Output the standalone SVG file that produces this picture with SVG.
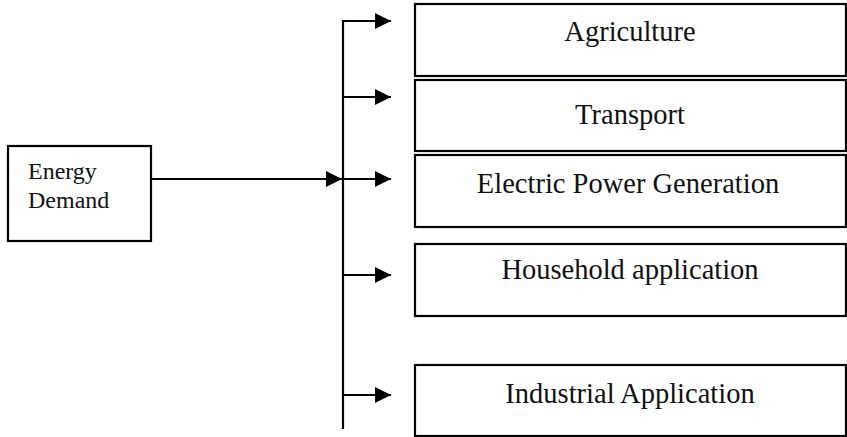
<svg xmlns="http://www.w3.org/2000/svg" width="847" height="437" viewBox="0 0 847 437">
  <style>
    .box { fill: #ffffff; stroke: #000000; stroke-width: 2.2; }
    .lbl { font-family: 'Liberation Serif', 'DejaVu Serif', 'Times New Roman', serif; font-size: 28.5px; fill: #111111; text-anchor: middle; }
    .src { font-family: 'Liberation Serif', 'DejaVu Serif', 'Times New Roman', serif; font-size: 24px; fill: #111111; }
    .wire { fill: none; stroke: #000000; stroke-width: 2.2; }
  </style>
  <defs>
    <marker id="arrow" markerUnits="userSpaceOnUse" markerWidth="16" markerHeight="16" viewBox="0 0 16 16" refX="16" refY="8" orient="auto">
      <path d="M0,0 L16,8 L0,16 Z" fill="#000000"/>
    </marker>
  </defs>
  <rect width="847" height="437" fill="#ffffff"/>

  <g id="energy-demand">
    <rect class="box" x="8" y="146" width="143" height="95"/>
    <text class="src" x="28" y="179">Energy</text>
    <text class="src" x="28" y="208">Demand</text>
  </g>

  <g id="agriculture">
    <rect class="box" x="415" y="4" width="431" height="72"/>
    <text class="lbl" x="630" y="41">Agriculture</text>
  </g>
  <g id="transport">
    <rect class="box" x="415" y="80" width="431" height="71"/>
    <text class="lbl" x="630" y="124">Transport</text>
  </g>
  <g id="electric-power-generation">
    <rect class="box" x="415" y="155" width="431" height="72"/>
    <text class="lbl" x="628" y="193">Electric Power Generation</text>
  </g>
  <g id="household-application">
    <rect class="box" x="415" y="244" width="431" height="72"/>
    <text class="lbl" x="630" y="279">Household application</text>
  </g>
  <g id="industrial-application">
    <rect class="box" x="415" y="365" width="431" height="71"/>
    <text class="lbl" x="630" y="403">Industrial Application</text>
  </g>

  <g id="connectors">
    <line class="wire" x1="151" y1="179" x2="342" y2="179" marker-end="url(#arrow)"/>
    <line class="wire" x1="343" y1="20" x2="343" y2="429"/>
    <line class="wire" x1="342" y1="21" x2="391" y2="21" marker-end="url(#arrow)"/>
    <line class="wire" x1="343" y1="97" x2="391" y2="97" marker-end="url(#arrow)"/>
    <line class="wire" x1="343" y1="179" x2="391" y2="179" marker-end="url(#arrow)"/>
    <line class="wire" x1="343" y1="275" x2="391" y2="275" marker-end="url(#arrow)"/>
    <line class="wire" x1="343" y1="395" x2="391" y2="395" marker-end="url(#arrow)"/>
  </g>
</svg>
